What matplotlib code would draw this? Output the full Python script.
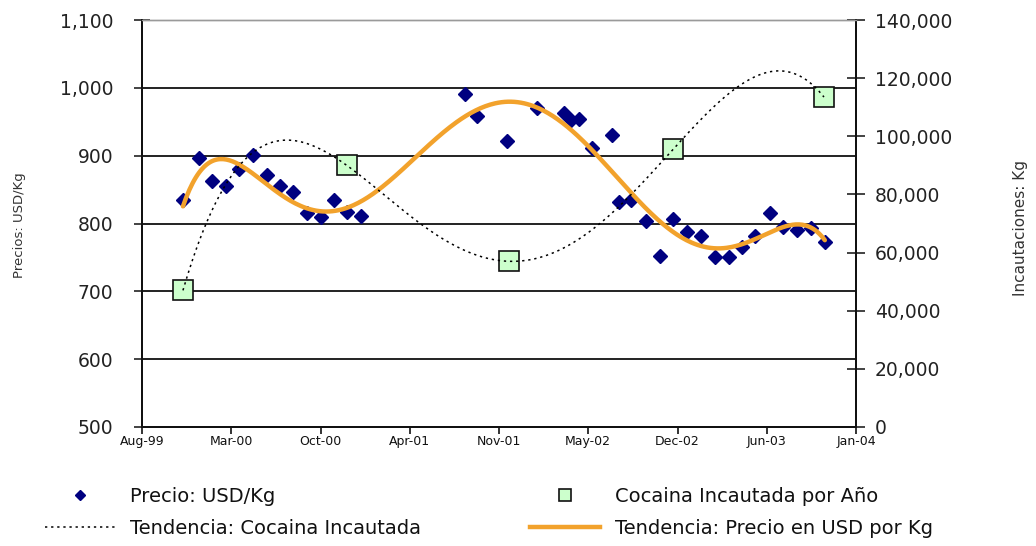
#!/usr/bin/env python3
"""Cocaine price vs yearly seizures, with polynomial trendlines."""

import matplotlib

matplotlib.use("Agg")
import matplotlib.dates as mdates
import matplotlib.pyplot as plt
import numpy as np
from matplotlib.lines import Line2D
from matplotlib.ticker import FuncFormatter


price_dates = [
    "1999-11-20", "1999-12-26", "2000-01-24", "2000-02-25", "2000-03-25",
    "2000-04-25", "2000-05-27", "2000-06-25", "2000-07-24", "2000-08-25",
    "2000-09-25", "2000-10-24", "2000-11-22", "2000-12-24", "2001-08-15",
    "2001-09-11", "2001-11-17", "2002-01-23", "2002-03-25", "2002-04-10",
    "2002-04-28", "2002-05-27", "2002-07-11", "2002-07-27", "2002-08-23",
    "2002-09-25", "2002-10-27", "2002-11-25", "2002-12-26", "2003-01-27",
    "2003-02-27", "2003-03-31", "2003-04-29", "2003-05-28", "2003-07-01",
    "2003-07-30", "2003-08-30", "2003-10-01", "2003-11-01",
]
price_usd_kg = [
    835, 896, 862, 856, 880,
    901, 871, 856, 846, 815,
    809, 834, 817, 811, 991,
    959, 921, 971, 963, 953,
    954, 912, 931, 832, 834,
    803, 752, 807, 788, 781,
    750, 751, 765, 781, 816,
    795, 790, 794, 772,
]

seizure_dates = ["1999-11-20", "2000-11-22", "2001-11-21", "2002-11-25", "2003-10-30"]
seizure_kg = [47000, 90000, 57000, 95500, 113500]

x_range = ["1999-08-20", "2004-01-10"]
x_tick_labels = ["Aug-99", "Mar-00", "Oct-00", "Apr-01", "Nov-01",
                 "May-02", "Dec-02", "Jun-03", "Jan-04"]

W, H = 1036, 546


def poly_trend(x, y, order, n=400):
    x = np.asarray(x, dtype=float)
    x0 = x.min()
    span = x.max() - x0
    coef = np.polyfit((x - x0) / span, np.asarray(y, dtype=float), order)
    tt = np.linspace(0.0, 1.0, n)
    return x0 + tt * span, np.polyval(coef, tt)


def main() -> None:
    plt.rcParams["font.family"] = ["DejaVu Sans"]
    fig = plt.figure(figsize=(W / 100, H / 100), dpi=100)
    ax = fig.add_axes([142 / W, 1 - 427 / H, 714 / W, 407 / H])
    ax2 = ax.twinx()

    px = mdates.datestr2num(price_dates)
    sx = mdates.datestr2num(seizure_dates)
    xlim = mdates.datestr2num(x_range)

    # gridlines on the price axis
    for yv in range(600, 1001, 100):
        ax.axhline(yv, color="#222222", linewidth=1.4, zorder=1)

    ax.plot(px, price_usd_kg, linestyle="none", marker="D", markersize=6.8,
            color="#000080", zorder=3)
    tx, ty = poly_trend(px, price_usd_kg, 6)
    ax.plot(tx, ty, color="#F2A22C", linewidth=3.2, zorder=4,
            solid_capstyle="round")

    ax2.plot(sx, seizure_kg, linestyle="none", marker="s", markersize=14,
             markerfacecolor="#CCFFCC", markeredgecolor="#111111",
             markeredgewidth=1.2, zorder=3)
    sx_t, sy_t = poly_trend(sx, seizure_kg, 4)
    ax2.plot(sx_t, sy_t, color="black", linewidth=1.1,
             linestyle=(0, (1.5, 2.5)), zorder=5)

    ax.set_xlim(*xlim)
    ax.set_ylim(500, 1100)
    ax2.set_ylim(0, 140000)
    ax.set_xticks(np.linspace(xlim[0], xlim[1], len(x_tick_labels)))
    ax.set_xticklabels(x_tick_labels)
    ax.set_yticks(range(500, 1101, 100))
    ax2.set_yticks(range(0, 140001, 20000))
    comma = FuncFormatter(lambda v, _: f"{int(v):,}")
    ax.yaxis.set_major_formatter(comma)
    ax2.yaxis.set_major_formatter(comma)

    ax.tick_params(axis="x", direction="out", length=5, width=1.2,
                   labelsize=9, pad=0.5, colors="#111111")
    ax.tick_params(axis="y", direction="inout", length=11, width=1.2,
                   labelsize=13.5, pad=15, colors="#222222")
    ax2.tick_params(axis="y", direction="inout", length=13, width=1.2,
                    labelsize=13.5, pad=7, colors="#222222")

    for a in (ax, ax2):
        a.spines["top"].set_color("#9a9a9a")
        a.spines["top"].set_linewidth(1.0)
        for side in ("left", "right", "bottom"):
            a.spines[side].set_color("#111111")
            a.spines[side].set_linewidth(1.4)

    fig.text(20 / W, 1 - 225 / H, "Precios: USD/Kg", rotation=90,
             ha="center", va="center", fontsize=9.5, color="#333333")
    fig.text(1020 / W, 1 - 228 / H, "Incautaciones: Kg", rotation=90,
             ha="center", va="center", fontsize=11, color="#333333")

    h_price = Line2D([], [], linestyle="none", marker="D", markersize=5.5,
                     color="#000080")
    h_seiz_trend = Line2D([], [], color="black", linewidth=1.1,
                          linestyle=(0, (1.5, 2.5)))
    h_seiz = Line2D([], [], linestyle="none", marker="s", markersize=9,
                    markerfacecolor="#CCFFCC", markeredgecolor="#111111",
                    markeredgewidth=1.2)
    h_price_trend = Line2D([], [], color="#F2A22C", linewidth=3.2)

    common = dict(loc="upper left", frameon=False, fontsize=14,
                  handlelength=3.6, handletextpad=0.75, labelspacing=0.68,
                  borderpad=0.0, borderaxespad=0.0, labelcolor="#111111")
    fig.legend([h_price, h_seiz_trend],
               ["Precio: USD/Kg", "Tendencia: Cocaina Incautada"],
               bbox_to_anchor=(45 / W, 1 - 487 / H), **common)
    fig.legend([h_seiz, h_price_trend],
               ["Cocaina Incautada por Año", "Tendencia: Precio en USD por Kg"],
               bbox_to_anchor=(530 / W, 1 - 487 / H), **common)

    fig.savefig("out.png", dpi=100)
    plt.close(fig)


if __name__ == "__main__":
    main()
